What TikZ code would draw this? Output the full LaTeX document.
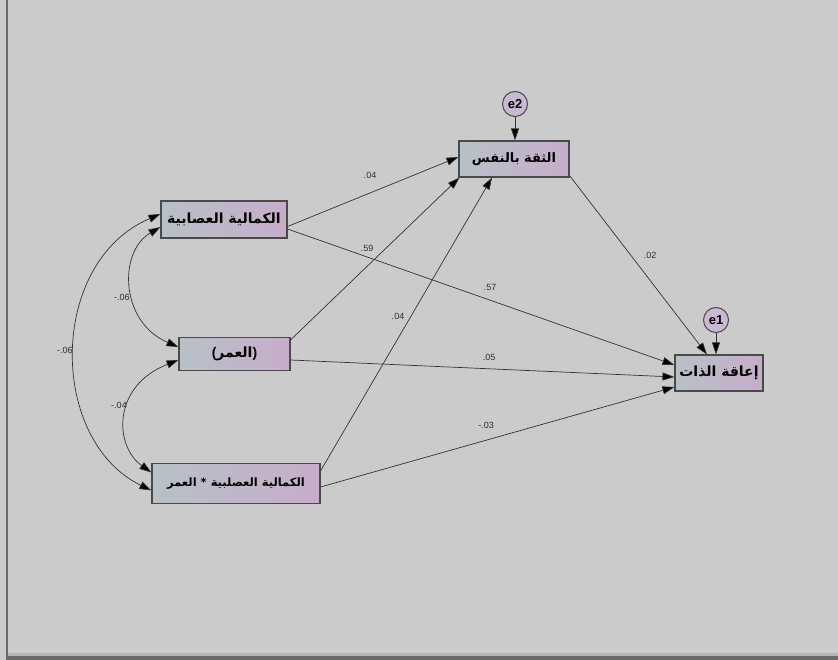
\documentclass[tikz,border=0pt]{standalone}
\usepackage{fontspec}
\setmainfont{Liberation Sans}
\newfontfamily\arabicfont[Script=Arabic]{DejaVu Sans}
\TeXXeTstate=1
\usetikzlibrary{arrows.meta,calc}

\definecolor{bg}{HTML}{CBCBCB}
\definecolor{boxL}{HTML}{B7C1C6}
\definecolor{boxR}{HTML}{C7ADCB}
\definecolor{boxedge}{HTML}{4A4A4A}
\definecolor{wire}{HTML}{333333}
\definecolor{labcol}{HTML}{2E2E2E}
\definecolor{errfill}{HTML}{C9B9D2}
\definecolor{frame}{HTML}{6A6A6A}
\definecolor{frameedge}{HTML}{B5B5B5}

\tikzset{
  var/.style={draw=boxedge, line width=1.1pt, left color=boxL, right color=boxR,
    inner sep=0pt, text=black, font=\arabicfont\bfseries\fontsize{14}{16}\selectfont},
  errnode/.style={circle, draw=boxedge, line width=1pt, fill=errfill, minimum size=25pt,
    inner sep=0pt, font=\bfseries\fontsize{13}{14}\selectfont},
  effect/.style={draw=wire, line width=0.7pt, -{Triangle[length=12pt,width=8pt,fill=black]}},
  covar/.style={draw=wire, line width=0.7pt,
    {Triangle[length=12pt,width=8pt,fill=black]}-{Triangle[length=12pt,width=8pt,fill=black]}},
  coef/.style={inner sep=0pt, text=labcol, font=\fontsize{9}{10}\selectfont},
}

\begin{document}
\begin{tikzpicture}[x=1pt, y=-1pt]
  % window background and frame
  \fill[bg] (0,0) rectangle (838,660);
  \useasboundingbox (0,0) rectangle (838,660);
  \fill[frame] (5.5,0) rectangle (7.5,660);
  \fill[frameedge] (7.5,652.5) rectangle (838,655.5);
  \fill[frame] (5.5,655.5) rectangle (838,660);

  % observed variables
  \node[var, minimum width=126pt, minimum height=37pt] (A) at (224,219.5)
    {\beginR الكمالية العصابية\endR};
  \node[var, minimum width=111pt, minimum height=33pt] (B) at (234.5,354)
    {\rmfamily(\arabicfont\beginR العمر\endR\rmfamily)};
  \node[var, minimum width=168pt, minimum height=40pt, font=\arabicfont\bfseries\fontsize{11.5}{13}\selectfont] (C) at (236,483.5)
    {\beginR الكمالية العصلبية * العمر\endR};
  \node[var, minimum width=110pt, minimum height=36pt, font=\arabicfont\bfseries\fontsize{13}{15}\selectfont] (D) at (514,159)
    {\beginR الثقة بالنفس\endR};
  \node[var, minimum width=88pt, minimum height=36pt] (E) at (719,373)
    {\beginR إعاقة الذات\endR};

  % error terms
  \node[errnode] (e2) at (515,104) {e2};
  \node[errnode] (e1) at (716,320) {e1};

  % direct effects
  \draw[effect] ([yshift=-7pt]A.east) -- ([yshift=2pt]D.west);
  \draw[effect] ([yshift=-9.5pt]A.east) -- ([yshift=8pt]E.west);
  \draw[effect] ([yshift=-3pt]B.north east) -- ([xshift=1pt]D.south west);
  \draw[effect] ([yshift=-6pt]B.east) -- ([yshift=-4pt]E.west);
  \draw[effect] ([yshift=-8pt]C.north east) -- ([xshift=-22pt]D.south);
  \draw[effect] ([yshift=-3.5pt]C.east) -- ([yshift=-14pt]E.west);
  \draw[effect] ([yshift=2pt]D.south east) -- ([xshift=-12pt]E.north);
  \draw[effect] (e2.south) -- (e2 |- D.north);
  \draw[effect] (e1.south) -- (e1 |- E.north);

  % covariances among the exogenous variables
  \draw[covar] ([yshift=-7.5pt]A.west) .. controls (118,252) and (120,322) .. ([yshift=7pt]B.west);
  \draw[covar] ([yshift=-6pt]B.west) .. controls (112,386) and (114,446) .. ([yshift=11pt]C.west);
  \draw[covar] ([yshift=5.5pt]A.west) .. controls (48,262) and (48,440) .. ([yshift=-7pt]C.west);

  % coefficients
  \node[coef] (cAD) at (370,175) {.04};
  \node[coef] (cBD) at (367,248) {.59};
  \node[coef] (cAE) at (490,287) {.57};
  \node[coef] (cDE) at (650,255) {.02};
  \node[coef] (cBE) at (489,357) {.05};
  \node[coef] (cCD) at (398,316) {.04};
  \node[coef] (cCE) at (486,425) {-.03};
  \node[coef] (cAB) at (122,297) {-.06};
  \node[coef] (cAC) at (65,350) {-.06};
  \node[coef] (cBC) at (119,405) {-.04};
\end{tikzpicture}
\end{document}
